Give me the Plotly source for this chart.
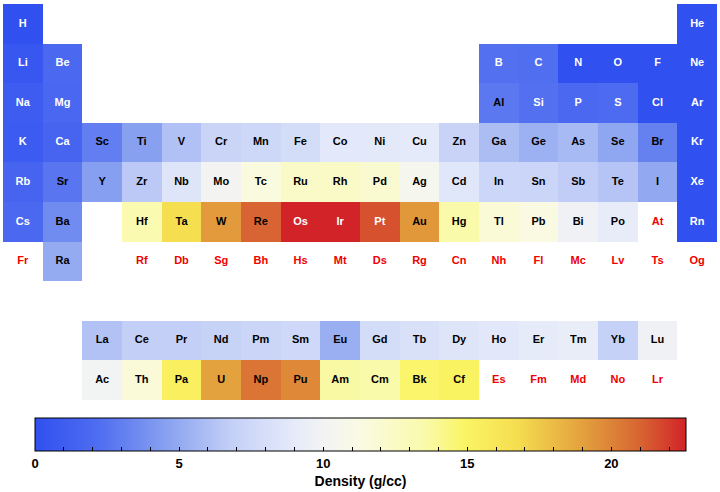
import plotly.graph_objects as go

symbols = ["H","He",
 "Li","Be","B","C","N","O","F","Ne",
 "Na","Mg","Al","Si","P","S","Cl","Ar",
 "K","Ca","Sc","Ti","V","Cr","Mn","Fe","Co","Ni","Cu","Zn","Ga","Ge","As","Se","Br","Kr",
 "Rb","Sr","Y","Zr","Nb","Mo","Tc","Ru","Rh","Pd","Ag","Cd","In","Sn","Sb","Te","I","Xe",
 "Cs","Ba","Hf","Ta","W","Re","Os","Ir","Pt","Au","Hg","Tl","Pb","Bi","Po","At","Rn",
 "Fr","Ra","Rf","Db","Sg","Bh","Hs","Mt","Ds","Rg","Cn","Nh","Fl","Mc","Lv","Ts","Og",
 "La","Ce","Pr","Nd","Pm","Sm","Eu","Gd","Tb","Dy","Ho","Er","Tm","Yb","Lu",
 "Ac","Th","Pa","U","Np","Pu","Am","Cm","Bk","Cf","Es","Fm","Md","No","Lr"]

groups = ([1,18] + [1,2,13,14,15,16,17,18]*2 + list(range(1,19))*2
          + [1,2] + list(range(4,19)) + [1,2] + list(range(4,19))
          + list(range(3,18))*2)

periods = ([1]*2 + [2]*8 + [3]*8 + [4]*18 + [5]*18 + [6]*17 + [7]*17
           + [9]*15 + [10]*15)

densities = [0.00009, 0.00018,
 0.535, 1.848, 2.34, 2.267, 0.00125, 0.00143, 0.0017, 0.0009,
 0.971, 1.738, 2.698, 2.329, 1.82, 2.067, 0.0032, 0.0018,
 0.862, 1.54, 2.989, 4.54, 6.11, 7.15, 7.44, 7.874, 8.86, 8.912, 8.96, 7.134, 5.907, 5.323, 5.776, 4.809, 3.122, 0.00375,
 1.532, 2.64, 4.469, 6.506, 8.57, 10.22, 11.5, 12.37, 12.41, 12.02, 10.501, 8.69, 7.31, 7.287, 6.685, 6.232, 4.93, 0.0059,
 1.873, 3.594, 13.31, 16.654, 19.25, 21.02, 22.59, 22.56, 21.45, 19.3, 13.534, 11.85, 11.34, 9.78, 9.196, None, 0.00973,
 None, 5.0, None, None, None, None, None, None, None, None, None, None, None, None, None, None, None,
 6.145, 6.77, 6.773, 7.007, 7.26, 7.52, 5.243, 7.895, 8.229, 8.55, 8.795, 9.066, 9.321, 6.965, 9.84,
 10.07, 11.72, 15.37, 18.95, 20.45, 19.84, 13.69, 13.51, 14.79, 15.1, None, None, None, None, None]

n_cols, n_rows = 18, 10
z = [[None]*n_cols for _ in range(n_rows)]
for g, p, d in zip(groups, periods, densities):
    z[p-1][g-1] = d

zmax = max(d for d in densities if d is not None)

colorscale = [
 [0.00, "rgb(48,80,240)"],
 [0.10, "rgb(80,110,240)"],
 [0.20, "rgb(135,160,240)"],
 [0.30, "rgb(195,207,247)"],
 [0.40, "rgb(230,235,250)"],
 [0.45, "rgb(243,244,242)"],
 [0.50, "rgb(250,250,228)"],
 [0.60, "rgb(250,250,170)"],
 [0.66, "rgb(250,245,100)"],
 [0.74, "rgb(245,222,80)"],
 [0.85, "rgb(226,155,60)"],
 [0.93, "rgb(215,100,50)"],
 [1.00, "rgb(210,35,40)"],
]

def text_color(d):
    if d is None:
        return "rgb(240,0,0)"
    if d < 2.5 or d > 21.2:
        return "white"
    return "black"

fig = go.Figure()
fig.add_trace(go.Heatmap(
    z=z, x=list(range(1, n_cols+1)), y=list(range(1, n_rows+1)),
    zmin=0, zmax=zmax, colorscale=colorscale, hoverongaps=False,
    colorbar=dict(
        orientation="h", x=(35-3)/714, xanchor="left",
        y=-18/396, yanchor="top", yref="paper",
        lenmode="pixels", len=651, thickness=33,
        xpad=0, ypad=0,
        outlinecolor="black", outlinewidth=1,
        tick0=0, dtick=1, ticklabelstep=5,
        ticks="inside", ticklen=4, tickcolor="black",
        tickfont=dict(family="Liberation Sans", size=13, color="black", weight="bold"),
        title=dict(text="Density (g/cc)", side="bottom",
                   font=dict(family="Liberation Sans", size=14, color="black", weight="bold")),
    ),
))

fig.add_trace(go.Scatter(
    x=groups, y=periods, text=symbols, mode="text",
    textfont=dict(family="Liberation Sans", size=11, weight="bold",
                  color=[text_color(d) for d in densities]),
    hoverinfo="skip", showlegend=False,
))

fig.update_xaxes(range=[0.5, 18.5], visible=False, fixedrange=True)
fig.update_yaxes(range=[10.5, 0.5], visible=False, fixedrange=True)
fig.update_layout(
    width=720, height=492,
    margin=dict(l=3, r=3, t=4, b=92),
    plot_bgcolor="white", paper_bgcolor="white",
    showlegend=False,
)

fig.write_html("out.html", config={"displayModeBar": False},
               post_script="document.body.style.margin='0';")
